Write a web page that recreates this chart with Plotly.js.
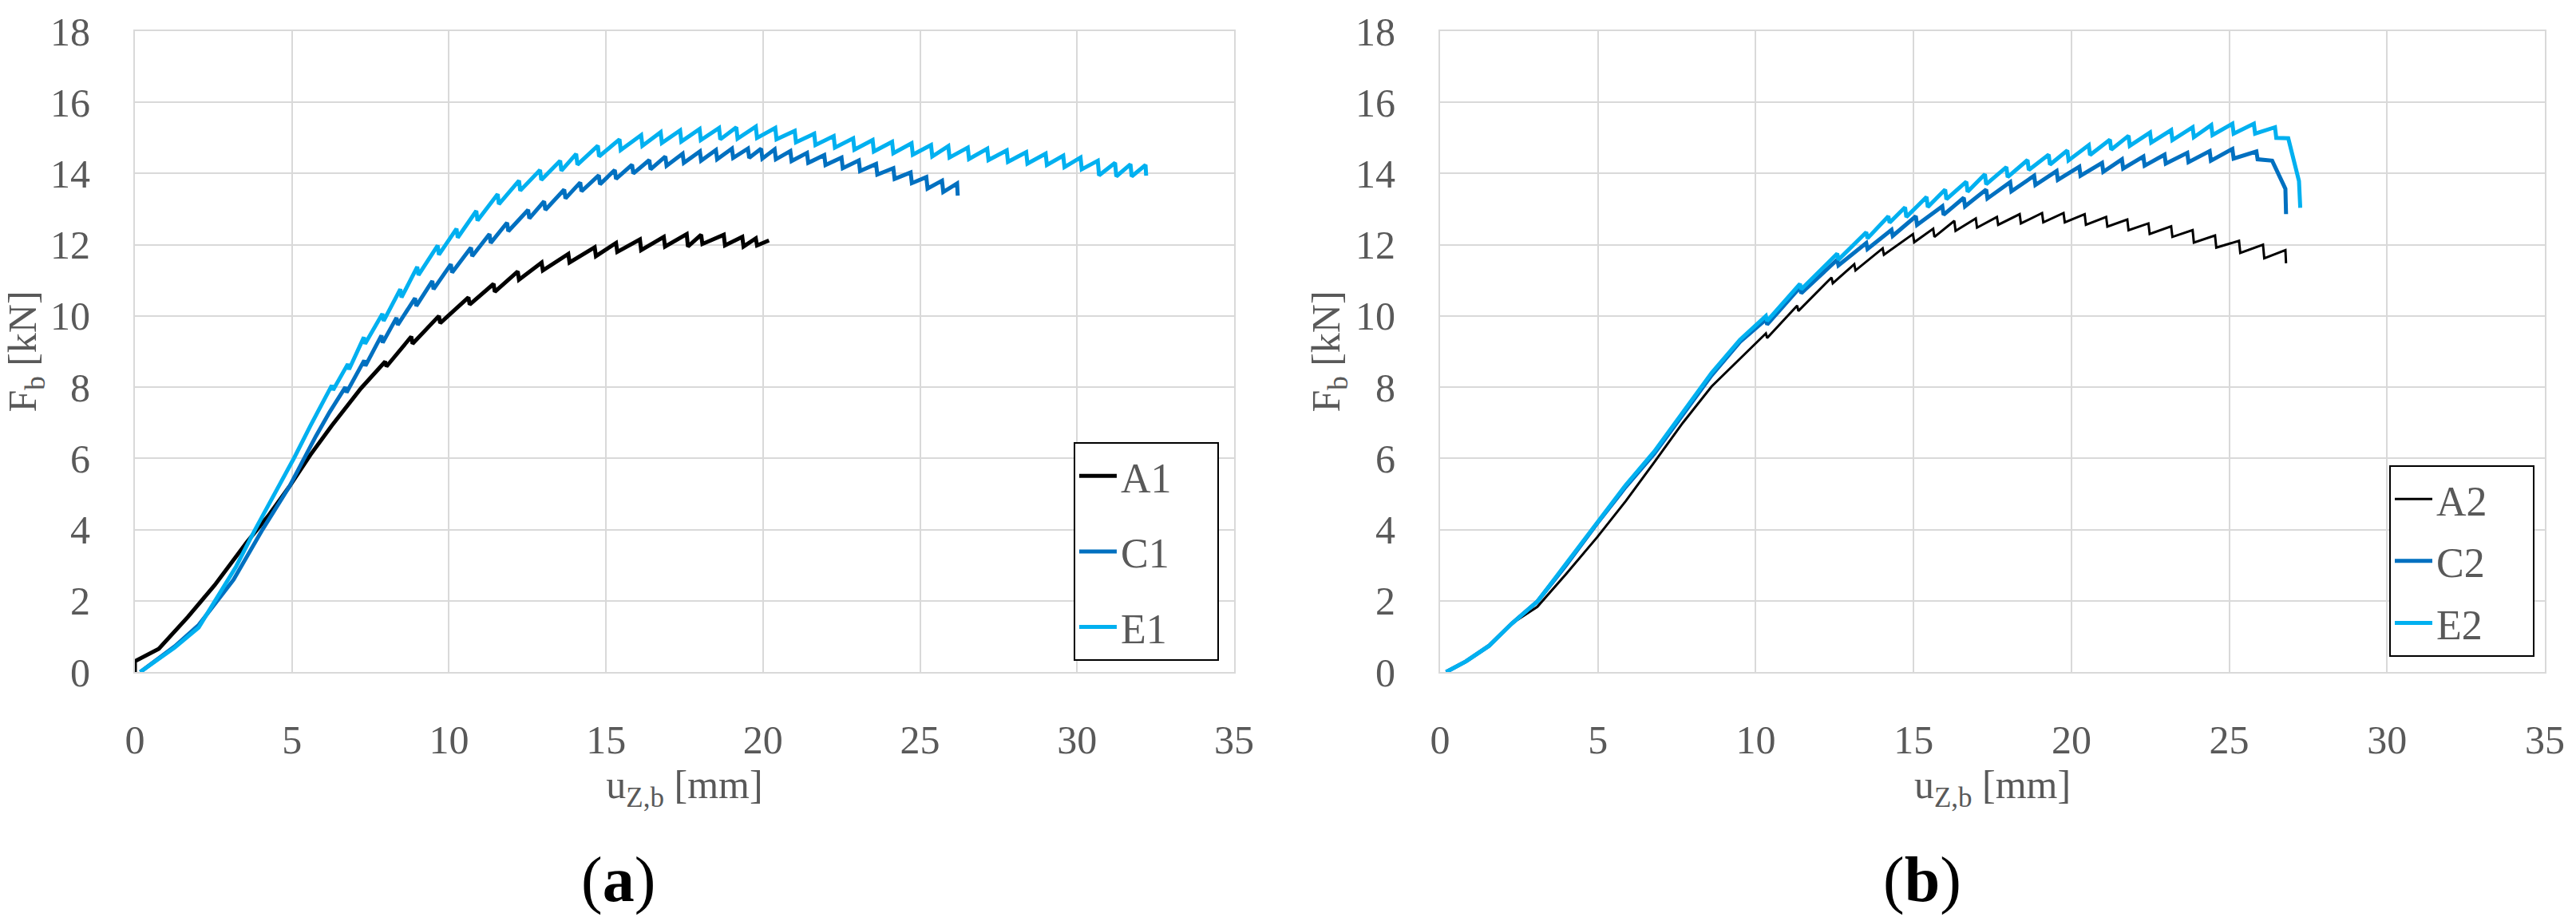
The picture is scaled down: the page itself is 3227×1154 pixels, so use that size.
<!DOCTYPE html>
<html>
<head>
<meta charset="utf-8">
<script src="https://cdn.plot.ly/plotly-3.0.1.min.js"></script>
<style>
  body { margin: 0; background: #fff; }
  #grafico { width: 3227px; height: 1154px; }
</style>
</head>
<body>
<div id="grafico"></div>
<script>
// Ensayo (a): desplazamiento uz,b [mm] y fuerza Fb [kN]
const a1X = [0, 0, 0.76, 1.69, 2.54, 3.56, 4.24, 4.92, 5.59, 6.27, 7.20, 7.97, 8.01,
    8.80, 8.84, 9.68, 9.72, 10.62, 10.66, 11.42, 11.46, 12.19, 12.23, 12.95, 12.99, 13.80, 13.84,
    14.64, 14.68, 15.32, 15.36, 16.08, 16.12, 16.84, 16.88, 17.57, 17.61, 18.03, 18.07, 18.75, 18.79,
    19.34, 19.38, 19.77, 19.81, 20.19];
const a1Y = [0, 0.30, 0.65, 1.55, 2.44, 3.64, 4.38, 5.21, 6.10, 6.92, 7.97, 8.72, 8.58,
    9.42, 9.22, 10.00, 9.80, 10.52, 10.32, 10.90, 10.68, 11.25, 11.02, 11.50, 11.28, 11.74, 11.50,
    11.93, 11.68, 12.05, 11.80, 12.15, 11.85, 12.22, 11.95, 12.30, 11.95, 12.28, 12.02, 12.28, 11.98,
    12.22, 11.95, 12.18, 11.98, 12.12];

const c1X = [0.17, 1.27, 2.03, 3.14, 4.07, 4.92, 5.76, 6.20,
    6.70, 6.74, 7.30, 7.34, 7.85, 7.89, 8.33, 8.37, 8.92, 8.96, 9.47, 9.51, 10.06, 10.10,
    10.70, 10.74, 11.29, 11.33, 11.85, 11.89, 12.52, 12.56, 13.03, 13.07, 13.67, 13.71, 14.18, 14.22,
    14.77, 14.81, 15.28, 15.32, 15.83, 15.87, 16.38, 16.42, 16.89, 16.93, 17.44, 17.48, 17.99, 18.03,
    18.50, 18.54, 19.01, 19.05, 19.52, 19.56, 19.94, 19.98, 20.37, 20.41, 20.87, 20.91, 21.40, 21.44,
    21.95, 21.99, 22.50, 22.54, 23.05, 23.09, 23.60, 23.64, 24.15, 24.19, 24.70, 24.74, 25.20, 25.24,
    25.70, 25.74, 26.18, 26.20];
const c1Y = [0, 0.72, 1.32, 2.59, 4.01, 5.21, 6.62, 7.30,
    8.00, 7.85, 8.75, 8.60, 9.45, 9.25, 9.95, 9.75, 10.50, 10.28, 10.98, 10.75, 11.45, 11.22,
    11.92, 11.68, 12.30, 12.05, 12.62, 12.38, 12.98, 12.74, 13.22, 12.98, 13.55, 13.30, 13.75, 13.50,
    13.95, 13.70, 14.10, 13.85, 14.25, 14.00, 14.38, 14.12, 14.48, 14.22, 14.56, 14.30, 14.62, 14.36,
    14.66, 14.40, 14.70, 14.44, 14.70, 14.44, 14.70, 14.42, 14.68, 14.40, 14.63, 14.35, 14.58, 14.30,
    14.52, 14.24, 14.45, 14.15, 14.37, 14.07, 14.27, 13.97, 14.15, 13.85, 14.03, 13.73, 13.90, 13.58,
    13.80, 13.48, 13.72, 13.38];

const e1X = [0.17, 1.27, 2.03, 3.22, 3.81, 4.58, 5.08, 5.59,
    6.27, 6.31, 6.78, 6.82, 7.29, 7.33, 7.88, 7.92, 8.45, 8.49, 8.99, 9.03, 9.64, 9.68,
    10.24, 10.28, 10.87, 10.91, 11.55, 11.59, 12.23, 12.27, 12.90, 12.94, 13.54, 13.58, 14.05, 14.09,
    14.74, 14.78, 15.43, 15.47, 16.12, 16.16, 16.74, 16.78, 17.36, 17.40, 17.98, 18.02, 18.60, 18.64,
    19.15, 19.19, 19.77, 19.81, 20.39, 20.43, 21.01, 21.05, 21.63, 21.67, 22.25, 22.29, 22.87, 22.91,
    23.49, 23.53, 24.11, 24.15, 24.73, 24.77, 25.35, 25.39, 25.90, 25.94, 26.52, 26.56, 27.14, 27.18,
    27.76, 27.80, 28.38, 28.42, 29.00, 29.04, 29.56, 29.60, 30.11, 30.15, 30.66, 30.70, 31.21, 31.25,
    31.70, 31.74, 32.18, 32.20];
const e1Y = [0, 0.69, 1.25, 2.96, 3.97, 5.21, 6.03, 6.92,
    8.05, 7.92, 8.65, 8.50, 9.40, 9.22, 10.06, 9.86, 10.75, 10.52, 11.38, 11.15, 11.98, 11.72,
    12.45, 12.20, 12.95, 12.68, 13.42, 13.14, 13.80, 13.52, 14.10, 13.82, 14.36, 14.08, 14.55, 14.25,
    14.78, 14.48, 14.96, 14.66, 15.08, 14.78, 15.16, 14.86, 15.21, 14.90, 15.25, 14.94, 15.28, 14.96,
    15.30, 14.98, 15.32, 15.00, 15.28, 14.96, 15.20, 14.88, 15.12, 14.80, 15.05, 14.73, 14.99, 14.67,
    14.94, 14.62, 14.89, 14.57, 14.85, 14.53, 14.80, 14.48, 14.77, 14.45, 14.73, 14.41, 14.70, 14.38,
    14.65, 14.33, 14.60, 14.28, 14.56, 14.24, 14.50, 14.18, 14.45, 14.12, 14.36, 13.95, 14.30, 13.92,
    14.26, 13.92, 14.24, 13.94];

// Ensayo (b)
const a2X = [0.19, 0.82, 1.54, 2.27, 3.08, 3.99, 4.98, 5.88, 6.79, 7.69, 8.60, 9.50,
    10.32, 10.36, 11.31, 11.35, 12.40, 12.44, 13.12, 13.16, 14.02, 14.06,
    14.98, 15.02, 15.62, 15.66, 16.29, 16.33, 16.97, 17.01, 17.64, 17.68, 18.36, 18.40,
    19.07, 19.11, 19.75, 19.79, 20.42, 20.46, 21.10, 21.14, 21.77, 21.81, 22.44, 22.48,
    23.16, 23.20, 23.84, 23.88, 24.55, 24.59, 25.31, 25.35, 26.07, 26.11, 26.78, 26.80];
const a2Y = [0, 0.30, 0.73, 1.36, 1.83, 2.75, 3.79, 4.80, 5.90, 7.00, 8.02, 8.80,
    9.51, 9.38, 10.29, 10.14, 11.08, 10.92, 11.45, 11.28, 11.90, 11.72,
    12.30, 12.07, 12.45, 12.22, 12.67, 12.39, 12.74, 12.48, 12.78, 12.56, 12.86, 12.60,
    12.89, 12.63, 12.89, 12.63, 12.86, 12.56, 12.78, 12.51, 12.71, 12.41, 12.60, 12.30,
    12.52, 12.22, 12.41, 12.06, 12.26, 11.92, 12.11, 11.77, 12.00, 11.62, 11.85, 11.48];

const c2X = [0.19, 0.82, 1.54, 2.27, 3.08, 3.99, 4.98, 5.88, 6.79, 7.69, 8.60, 9.50,
    10.32, 10.36, 11.40, 11.44, 12.58, 12.62, 13.50, 13.54, 14.30, 14.34,
    15.07, 15.11, 15.91, 15.95, 16.59, 16.63, 17.30, 17.34, 18.06, 18.10, 18.82, 18.86,
    19.53, 19.57, 20.25, 20.29, 20.97, 21.01, 21.60, 21.64, 22.28, 22.32, 22.95, 22.99,
    23.67, 23.71, 24.38, 24.42, 25.10, 25.14, 25.86, 25.90, 26.36, 26.70, 26.78, 26.80];
const c2Y = [0, 0.30, 0.73, 1.36, 1.98, 3.00, 4.18, 5.20, 6.14, 7.24, 8.33, 9.27,
    9.90, 9.76, 10.80, 10.64, 11.58, 11.42, 12.05, 11.88, 12.42, 12.25,
    12.80, 12.56, 13.08, 12.84, 13.32, 13.08, 13.55, 13.30, 13.76, 13.50, 13.94, 13.68,
    14.07, 13.82, 14.19, 13.94, 14.30, 14.05, 14.40, 14.14, 14.48, 14.22, 14.53, 14.28,
    14.58, 14.32, 14.63, 14.36, 14.69, 14.42, 14.62, 14.40, 14.36, 13.72, 13.57, 12.86];

const e2X = [0.19, 0.82, 1.54, 2.27, 3.08, 3.99, 4.98, 5.88, 6.79, 7.69, 8.60, 9.50,
    10.32, 10.36, 11.40, 11.44, 12.58, 12.62, 13.50, 13.54, 14.20, 14.24,
    14.73, 14.77, 15.41, 15.45, 16.00, 16.04, 16.67, 16.71, 17.26, 17.30, 17.94, 17.98,
    18.61, 18.65, 19.28, 19.32, 19.87, 19.91, 20.55, 20.59, 21.22, 21.26, 21.81, 21.85,
    22.49, 22.53, 23.16, 23.20, 23.84, 23.88, 24.43, 24.47, 25.10, 25.14, 25.78, 25.82,
    26.45, 26.49, 26.87, 27.21, 27.25];
const e2Y = [0, 0.30, 0.73, 1.36, 1.98, 3.05, 4.22, 5.25, 6.20, 7.30, 8.40, 9.33,
    10.00, 9.86, 10.90, 10.75, 11.75, 11.58, 12.35, 12.18, 12.80, 12.62,
    13.05, 12.78, 13.34, 13.06, 13.55, 13.28, 13.77, 13.49, 13.98, 13.70, 14.18, 13.90,
    14.38, 14.10, 14.53, 14.25, 14.65, 14.37, 14.80, 14.52, 14.95, 14.67, 15.06, 14.78,
    15.15, 14.87, 15.22, 14.94, 15.30, 15.02, 15.36, 15.08, 15.40, 15.12, 15.40, 15.12,
    15.30, 15.00, 14.99, 13.79, 13.04];

const ticksX = [0, 5, 10, 15, 20, 25, 30, 35];
const ticksY = [0, 2, 4, 6, 8, 10, 12, 14, 16, 18];

const NEGRO = '#000000';
const AZUL = '#0070C0';
const CELESTE = '#00B0F0';
const GRIS = '#595959';
const FUENTE = 'Liberation Serif, Times New Roman, serif';
// espacios duros para ensanchar el recuadro de la leyenda
const RELLENO = '\u00a0\u00a0\u00a0\u00a0';

function serie(nombre, x, y, color, ancho, eje, leyenda) {
    return {
        x: x,
        y: y,
        name: nombre + RELLENO,
        type: 'scatter',
        mode: 'lines',
        line: { color: color, width: ancho },
        xaxis: eje.x,
        yaxis: eje.y,
        legend: leyenda,
        legendgroup: nombre
    };
}

const ejeA = { x: 'x', y: 'y' };
const ejeB = { x: 'x2', y: 'y2' };

const trazas = [
    serie('A1', a1X, a1Y, NEGRO, 5, ejeA, 'legend'),
    serie('C1', c1X, c1Y, AZUL, 5, ejeA, 'legend'),
    serie('E1', e1X, e1Y, CELESTE, 5, ejeA, 'legend'),
    serie('A2', a2X, a2Y, NEGRO, 3, ejeB, 'legend2'),
    serie('C2', c2X, c2Y, AZUL, 5, ejeB, 'legend2'),
    serie('E2', e2X, e2Y, CELESTE, 5, ejeB, 'legend2')
];

function ejeX(dominio, ancla) {
    return {
        domain: dominio,
        anchor: ancla,
        range: [0, 35],
        tickvals: ticksX,
        showgrid: true,
        gridcolor: '#D9D9D9',
        gridwidth: 2,
        showline: true,
        mirror: true,
        linecolor: '#D9D9D9',
        linewidth: 2,
        zeroline: false,
        ticks: '',
        ticklabelstandoff: 40,
        tickfont: { family: FUENTE, size: 50, color: GRIS },
        title: {
            text: 'u<sub>Z,b</sub> [mm]',
            font: { family: FUENTE, size: 50, color: GRIS },
            standoff: 2
        }
    };
}

function ejeY(ancla) {
    return {
        anchor: ancla,
        domain: [0, 1],
        range: [0, 18],
        tickvals: ticksY,
        showgrid: true,
        gridcolor: '#D9D9D9',
        gridwidth: 2,
        showline: true,
        mirror: true,
        linecolor: '#D9D9D9',
        linewidth: 2,
        zeroline: false,
        ticks: '',
        ticklabelstandoff: 44,
        tickfont: { family: FUENTE, size: 50, color: GRIS },
        title: {
            text: 'F<sub>b</sub> [kN]',
            font: { family: FUENTE, size: 50, color: GRIS },
            standoff: 4
        }
    };
}

function leyenda(x, y, espacio) {
    return {
        x: x,
        y: y,
        xanchor: 'right',
        yanchor: 'bottom',
        bgcolor: '#FFFFFF',
        bordercolor: '#000000',
        borderwidth: 2,
        itemwidth: 47,
        tracegroupgap: espacio,
        font: { family: FUENTE, size: 52, color: GRIS }
    };
}

const layout = {
    width: 3227,
    height: 1154,
    margin: { l: 169, r: 39, t: 39, b: 312 },
    paper_bgcolor: '#FFFFFF',
    plot_bgcolor: '#FFFFFF',
    showlegend: true,
    xaxis: ejeX([0, 0.4561], 'y'),
    yaxis: ejeY('x'),
    xaxis2: ejeX([0.5416, 1], 'y2'),
    yaxis2: ejeY('x2'),
    legend: leyenda(0.4498, 0.0174, 24),
    legend2: leyenda(0.9957, 0.0237, 7),
    annotations: [
        {
            text: '(<b>a</b>)', xref: 'paper', yref: 'paper', x: 0.2007, y: -0.325,
            xanchor: 'center', yanchor: 'middle', showarrow: false,
            font: { family: FUENTE, size: 80, color: '#000000' }
        },
        {
            text: '(<b>b</b>)', xref: 'paper', yref: 'paper', x: 0.7416, y: -0.325,
            xanchor: 'center', yanchor: 'middle', showarrow: false,
            font: { family: FUENTE, size: 80, color: '#000000' }
        }
    ]
};

Plotly.newPlot('grafico', trazas, layout, { staticPlot: true });
</script>
</body>
</html>
